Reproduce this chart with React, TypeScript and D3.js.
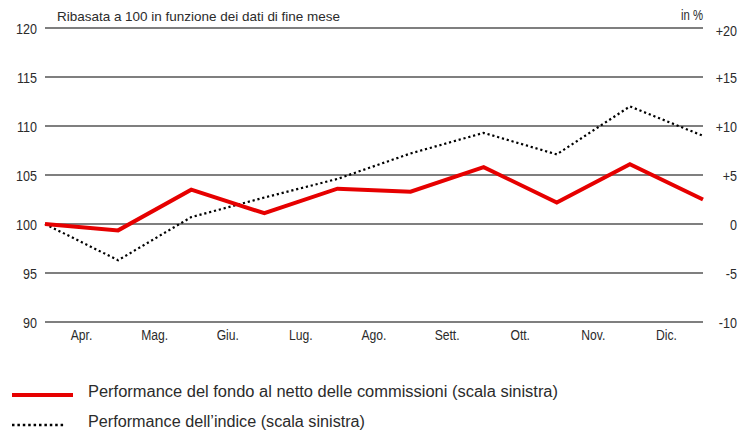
import React from 'react';
import * as d3 from 'd3';

// months shown between the month-end points
const months = ['Apr.', 'Mag.', 'Giu.', 'Lug.', 'Ago.', 'Sett.', 'Ott.', 'Nov.', 'Dic.'];
// rebased values at each month end (10 points)
const fundValues = [100, 99.35, 103.5, 101.1, 103.6, 103.3, 105.8, 102.2, 106.1, 102.5];
const indexValues = [100, 96.3, 100.7, 102.7, 104.6, 107.2, 109.3, 107.1, 112.0, 109.0];
const leftTicks = [90, 95, 100, 105, 110, 115, 120];
const rightTickLabels = ['-10', '-5', '0', '+5', '+10', '+15', '+20'];

const FONT = '"Liberation Sans", Arial, sans-serif';
const SX = 0.81; // condensed look of the original font

// narrow text: squeeze horizontally around its anchor point
const NText = ({ x, y, anchor = 'start', size, children }: { x: number; y: number; anchor?: string; size: number; children: React.ReactNode }) => (
    <text transform={`translate(${x},${y}) scale(${SX},1)`} textAnchor={anchor} fontSize={size} fill="#2b2b2b">{children}</text>
);

const App = () => {
    const width = 748, height = 432;
    const x0 = 45, x1 = 703;

    const y = d3.scaleLinear().domain([90, 120]).range([322, 28]);
    const xPoint = d3.scaleLinear().domain([0, fundValues.length - 1]).range([x0, x1]);
    const xBand = d3.scaleBand().domain(months).range([x0, x1]);

    const line = d3.line<number>()
        .x((_, i) => xPoint(i))
        .y(d => y(d));

    return (
        <svg width={width} height={height} style={{ position: 'absolute', left: 0, top: 0, fontFamily: FONT }}>
            <rect width={width} height={height} fill="#fff" />

            {/* gridlines + tick labels */}
            {leftTicks.map((t, i) => (
                <g key={t}>
                    <line x1={x0} x2={x1} y1={y(t)} y2={y(t)} stroke="#000" strokeWidth={1.2} />
                    <NText x={37} y={y(t) + 6} anchor="end" size={15.5}>{t}</NText>
                    <NText x={737} y={y(t) + 6 + (t === 120 ? 1.5 : 0)} anchor="end" size={15.5}>{rightTickLabels[i]}</NText>
                </g>
            ))}

            <text x={57} y={21} fontSize={13} fill="#2b2b2b" textLength={283} lengthAdjust="spacingAndGlyphs">Ribasata a 100 in funzione dei dati di fine mese</text>
            <NText x={703} y={20} anchor="end" size={14}>in %</NText>

            {/* month labels */}
            {months.map(m => (
                <NText key={m} x={(xBand(m) ?? 0) + xBand.bandwidth() / 2} y={340} anchor="middle" size={15}>{m}</NText>
            ))}

            <path d={line(indexValues) ?? ''} fill="none" stroke="#000" strokeWidth={2.2} strokeDasharray="2.2,2.8" />
            <path d={line(fundValues) ?? ''} fill="none" stroke="#e60000" strokeWidth={4} strokeLinejoin="miter" />

            {/* legend */}
            <line x1={12} x2={73} y1={395} y2={395} stroke="#e60000" strokeWidth={4} />
            <text x={88} y={397} fontSize={16} fill="#2b2b2b" textLength={470} lengthAdjust="spacingAndGlyphs">Performance del fondo al netto delle commissioni (scala sinistra)</text>
            <line x1={12} x2={66} y1={425} y2={425} stroke="#000" strokeWidth={2.5} strokeDasharray="2.5,2.9" />
            <text x={88} y={427} fontSize={16} fill="#2b2b2b" textLength={277} lengthAdjust="spacingAndGlyphs">Performance dell’indice (scala sinistra)</text>
        </svg>
    );
};

export default App;
